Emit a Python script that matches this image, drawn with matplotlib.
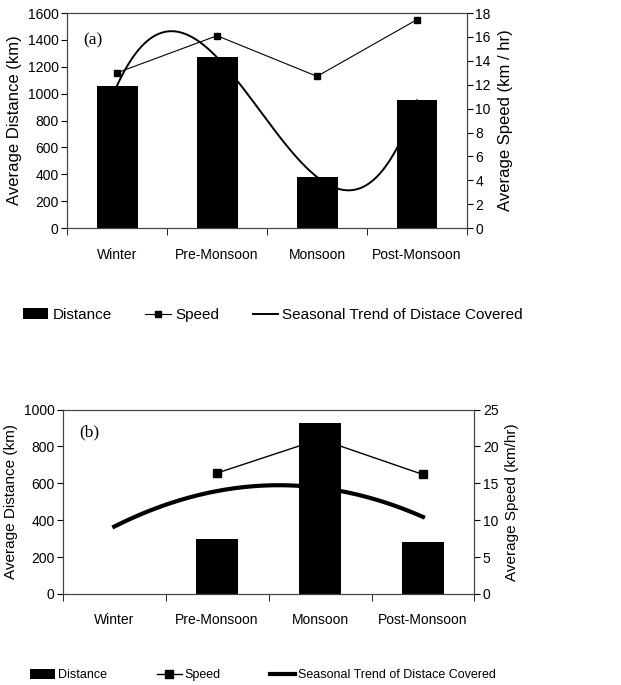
import numpy as np
import matplotlib
matplotlib.use('Agg')
import matplotlib.pyplot as plt
from matplotlib.patches import Patch
from matplotlib.lines import Line2D

plt.rcParams['font.family'] = ['Liberation Sans', 'DejaVu Sans']

seasons = ['Winter', 'Pre-Monsoon', 'Monsoon', 'Post-Monsoon']

# panel (a)
dist_a = [1060, 1270, 380, 950]
speed_a = [13.0, 16.1, 12.7, 17.45]

# panel (b)
dist_b = [0, 297, 927, 284]
speed_b = [np.nan, 16.4, 21.0, 16.2]
trend_b = [366, 556, 578, 417]   # trend curve read at each season

legend_labels = ['Distance', 'Speed', 'Seasonal Trend of Distace Covered']

fig = plt.figure(figsize=(6.21, 6.85), dpi=100)

def setup(ax, ax2, ylim, yticks, ylim2, yticks2, ylab, ylab2, labsize):
    x = np.arange(1, 5)
    ax.set_xlim(0.5, 4.5)
    ax.set_ylim(*ylim)
    ax.set_yticks(yticks)
    ax2.set_ylim(*ylim2)
    ax2.set_yticks(yticks2)
    ax.set_xticks(x)
    ax.set_xticklabels(seasons, fontsize=10)
    ax.set_xticks(np.arange(0.5, 4.6, 1), minor=True)
    ax.tick_params(axis='x', which='major', length=0, pad=14)
    ax.tick_params(axis='x', which='minor', length=5, direction='out')
    ax.tick_params(axis='y', length=4, labelsize=10, pad=2)
    ax2.tick_params(axis='y', length=4, labelsize=10, pad=2)
    ax.set_ylabel(ylab, fontsize=labsize, labelpad=4)
    ax2.set_ylabel(ylab2, fontsize=labsize, labelpad=5)
    for a in (ax, ax2):
        for s in a.spines.values():
            s.set_color('#444444')
            s.set_linewidth(0.8)

# ---- (a) ----
ax = fig.add_axes([0.108, 0.667, 0.644, 0.314])
ax2 = ax.twinx()
x = np.arange(1, 5)
ax.bar(x, dist_a, width=0.41, color='black', zorder=2)
xs = np.linspace(1, 4, 200)
ax.plot(xs, np.polyval(np.polyfit(x, dist_a, 3), xs), color='black', lw=1.4, zorder=3)
ax2.plot(x, speed_a, color='black', lw=0.8, marker='s', markersize=4)
setup(ax, ax2, (0, 1600), range(0, 1601, 200), (0, 18), range(0, 19, 2),
      'Average Distance (km)', 'Average Speed (km / hr)', 12)
ax.text(0.04, 0.875, '(a)', transform=ax.transAxes, fontsize=12.5,
        family='Liberation Serif', va='center')

handles_a = [Patch(facecolor='black'),
             Line2D([], [], color='black', lw=0.8, marker='s', markersize=4),
             Line2D([], [], color='black', lw=1.4)]
fig.legend(handles_a, legend_labels, loc='center left', bbox_to_anchor=(15 / 621, 1 - 315 / 685),
           ncol=3, frameon=False, fontsize=11, handlelength=1.65, handleheight=0.75,
           handletextpad=0.3, columnspacing=2.2, borderpad=0)

# ---- (b) ----
bx = fig.add_axes([0.101, 0.133, 0.663, 0.269])
bx2 = bx.twinx()
bx.bar(x, dist_b, width=0.41, color='black', zorder=2)
bx.plot(xs, np.polyval(np.polyfit(x, trend_b, 2), xs), color='black', lw=3, zorder=3)
bx2.plot(x, speed_b, color='black', lw=1.0, marker='s', markersize=6)
setup(bx, bx2, (0, 1000), range(0, 1001, 200), (0, 25), range(0, 26, 5),
      'Average Distance (km)', 'Average Speed (km/hr)', 11)
bx.text(0.04, 0.875, '(b)', transform=bx.transAxes, fontsize=12.5,
        family='Liberation Serif', va='center')

handles_b = [Patch(facecolor='black'),
             Line2D([], [], color='black', lw=1.0, marker='s', markersize=6),
             Line2D([], [], color='black', lw=3)]
fig.legend(handles_b, legend_labels, loc='center left', bbox_to_anchor=(24 / 621, 1 - 675 / 685),
           ncol=3, frameon=False, fontsize=9, handlelength=2.0, handleheight=0.85,
           handletextpad=0.2, columnspacing=4.0, borderpad=0)

fig.savefig('out.png', dpi=100)
